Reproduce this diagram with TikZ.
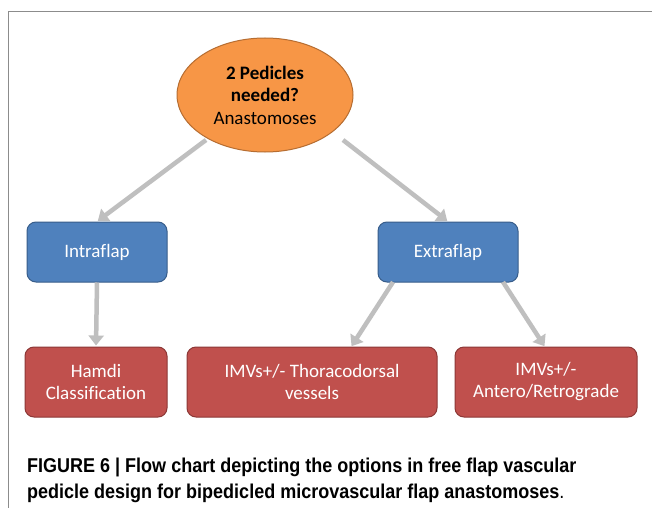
\documentclass[tikz,border=0pt]{standalone}
\usepackage{fontspec}
\setmainfont[Ligatures=NoCommon]{Carlito}
\newfontfamily\capfont{Liberation Sans}
\usetikzlibrary{shapes.geometric,arrows.meta}
\definecolor{orangefill}{HTML}{F79646}
\definecolor{orangeline}{HTML}{B66D31}
\definecolor{bluefill}{HTML}{4F81BD}
\definecolor{blueline}{HTML}{385D8A}
\definecolor{redfill}{HTML}{C0504D}
\definecolor{redline}{HTML}{8C3836}
\definecolor{arrowgray}{HTML}{BFBFBF}
\definecolor{framegray}{HTML}{8C8C8C}
\tikzset{
  bluebox/.style={draw=blueline, fill=bluefill, line width=1pt, rounded corners=9pt, text=white, align=center, font=\fontsize{19}{22}\selectfont, inner sep=0pt},
  redbox/.style={draw=redline, fill=redfill, line width=1pt, rounded corners=9pt, text=white, align=center, font=\fontsize{19}{22}\selectfont, inner sep=0pt},
  conn/.style={draw=arrowgray, line width=4.5pt, -{Triangle[length=10pt,width=15pt]}, shorten >=1pt}
}
\begin{document}
\begin{tikzpicture}[x=1pt,y=-1pt]
\useasboundingbox (0,0) rectangle (652,508);
\fill[white] (0,0) rectangle (652,508);
% frame
\draw[framegray, line width=1.5pt] (652,11.5) -- (8.5,11.5) -- (8.5,508);
% nodes
\node[ellipse, draw=orangeline, fill=orangefill, line width=1pt, minimum width=176pt, minimum height=114pt, inner sep=0pt, align=center, font=\fontsize{19}{22.5}\selectfont] (top) at (265,95) {\textbf{2 Pedicles}\\\textbf{needed?}\\Anastomoses};
\node[bluebox, minimum width=140pt, minimum height=60pt] (intra) at (97,252) {Intraflap};
\node[bluebox, minimum width=140pt, minimum height=60pt] (extra) at (448,252) {Extraflap};
\node[redbox, minimum width=142pt, minimum height=70pt] (hamdi) at (96,382) {Hamdi\\Classification};
\node[redbox, minimum width=250pt, minimum height=70pt] (thoraco) at (312,382) {IMVs+/- Thoracodorsal\\vessels};
\node[redbox, minimum width=182pt, minimum height=70pt] (antero) at (546,382) {IMVs+/-\\Antero/Retrograde};
% connectors
\coordinate (tl) at (206,140);
\coordinate (tr) at (343,140);
\draw[conn] (tl) -- (intra.north);
\draw[conn] (tr) -- (extra.north);
\draw[conn] (intra.south) -- (hamdi.north);
\coordinate (el) at (393,282);
\coordinate (er) at (503,282);
\coordinate (tt) at (351,347);
\coordinate (at) at (545,347);
\draw[conn] (el) -- (tt);
\draw[conn] (er) -- (at);
% caption
\node[anchor=west, inner sep=0pt, font=\capfont\bfseries\fontsize{20}{24}\selectfont] (cap1) at (27,467) {\scalebox{0.9}[1]{FIGURE 6 | Flow chart depicting the options in free flap vascular}};
\node[anchor=west, inner sep=0pt, font=\capfont\bfseries\fontsize{20}{24}\selectfont] (cap2) at (27,493) {\scalebox{0.9}[1]{pedicle design for bipedicled microvascular flap anastomoses\mdseries.}};
\end{tikzpicture}
\end{document}
